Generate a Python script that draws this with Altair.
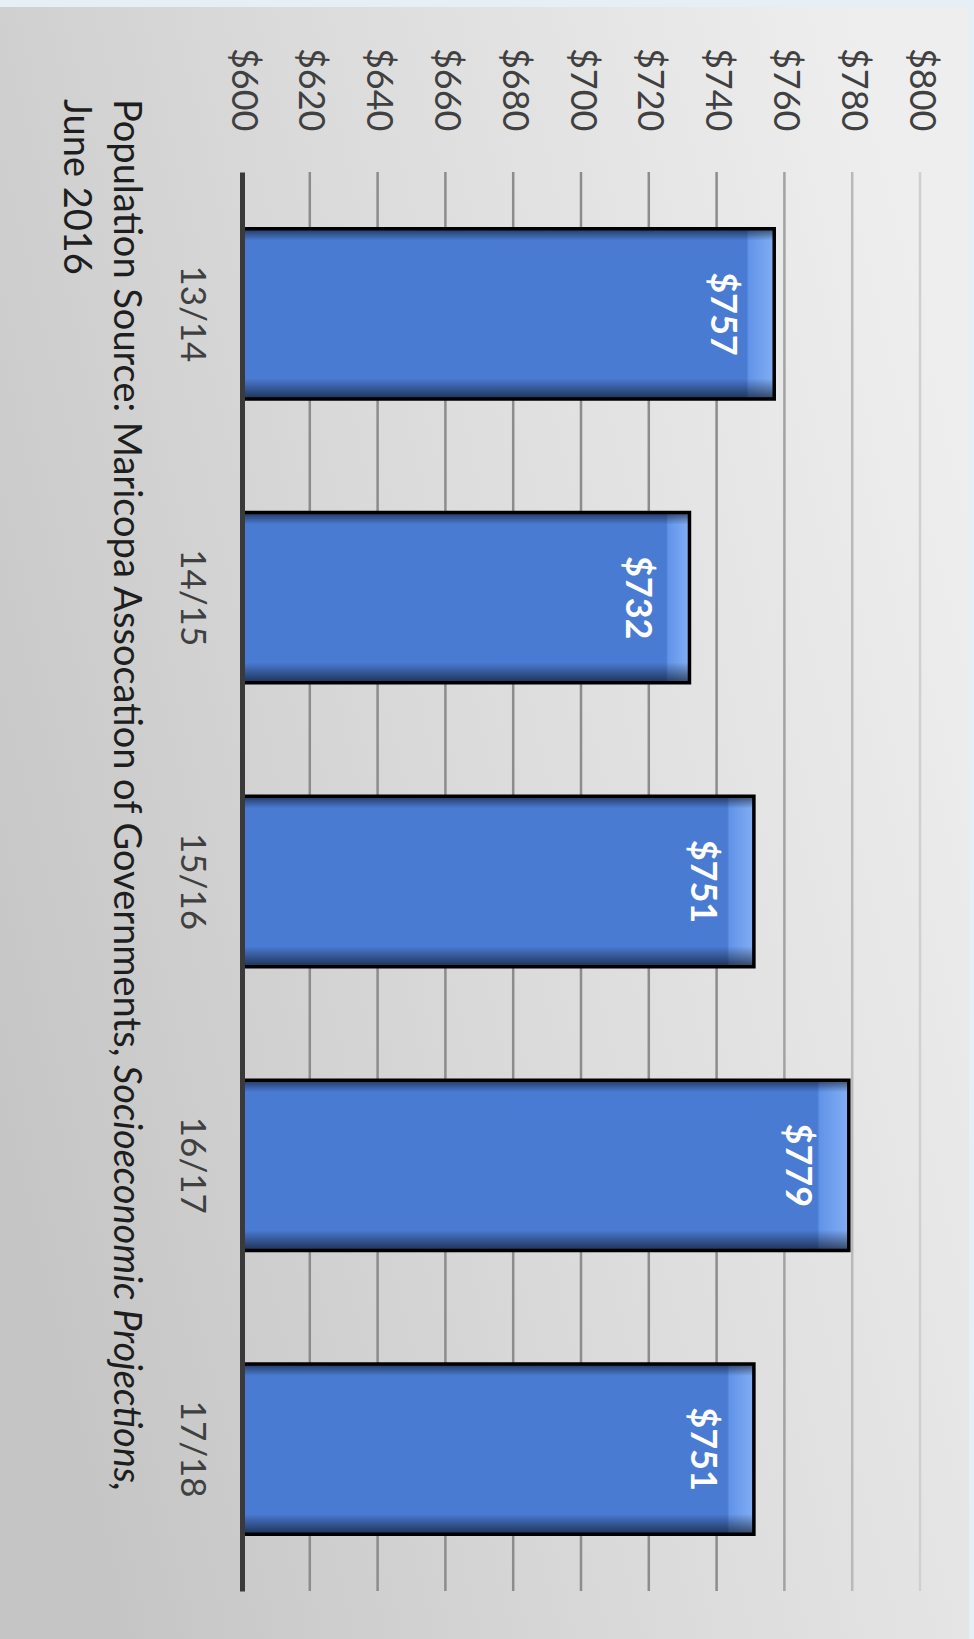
import altair as alt
import pandas as pd

# ---- data ----
categories = ["13/14", "14/15", "15/16", "16/17", "17/18"]
values = [757, 732, 751, 779, 751]
tick_values = [600, 620, 640, 660, 680, 700, 720, 740, 760, 780, 800]
source_main = "Population Source: Maricopa Assocation of Governments,"
source_italic = "Socioeconomic Projections,"
source_line2 = "June 2016"

df = pd.DataFrame({"cat": categories, "val": values})
df["label"] = ["$" + str(v) for v in values]
ticks = pd.DataFrame({"t": tick_values})
one = pd.DataFrame({"k": [0]})

W, H = 678, 1419
FONT = "Lato"
BASE = tick_values[0]

x_scale = alt.Scale(domain=[tick_values[0], tick_values[-1]], zero=False, nice=False)
x_axis = alt.Axis(
    orient="top", values=tick_values, format="$,.0f", title=None,
    labelAngle=90, labelAlign="right", labelBaseline="middle",
    labelPadding=41, labelFont=FONT, labelFontSize=36, labelColor="#404040",
    labelFlush=False, labelOverlap=False, ticks=False, domain=False,
    grid=False, zindex=1,
)
y_scale = alt.Scale(domain=categories, paddingInner=0.4, paddingOuter=0.2)
y_axis = alt.Axis(
    title=None, labelAngle=90, labelAlign="center", labelBaseline="middle",
    labelPadding=51, labelFont=FONT, labelFontSize=35, labelColor="#404040",
    ticks=False, domainColor="#3a3a3a", domainWidth=5, grid=False, zindex=1,
)

# background panel
bg = alt.Chart(one).mark_rect(
    fill=alt.Gradient(
        gradient="linear", x1=0, y1=0.7, x2=1, y2=0.3,
        stops=[alt.GradientStop(color="#c5c5c5", offset=0),
               alt.GradientStop(color="#d9d9d9", offset=0.45),
               alt.GradientStop(color="#eeeeee", offset=1)],
    ),
    cornerRadiusTopRight=6,
).encode(x=alt.value(-242), x2=alt.value(727), y=alt.value(-165), y2=alt.value(1467))

# gridlines
grid = alt.Chart(ticks).transform_filter("datum.t > 600").mark_rule(strokeWidth=2.5).encode(
    x=alt.X("t:Q", scale=x_scale, axis=x_axis),
    color=alt.Color("t:Q", scale=alt.Scale(domain=[740, 800], range=["#8c8c8c", "#d0d0d0"], clamp=True), legend=None),
)

bar_fill = alt.Gradient(
    gradient="linear", x1=0, y1=0, x2=1, y2=0,
    stops=[alt.GradientStop(color="#4a7bd3", offset=0),
           alt.GradientStop(color="#4a7bd3", offset=0.948),
           alt.GradientStop(color="#6193e8", offset=0.952),
           alt.GradientStop(color="#82aef4", offset=1)],
)
bars = alt.Chart(df).mark_bar(fill=bar_fill).encode(
    x=alt.X("val:Q", scale=x_scale, axis=x_axis),
    x2=alt.datum(BASE),
    y=alt.Y("cat:N", scale=y_scale, axis=y_axis, sort=categories),
)

shade = alt.Chart(df).mark_bar(
    fill=alt.Gradient(
        gradient="linear", x1=0, y1=0, x2=0, y2=1,
        stops=[alt.GradientStop(color="rgba(0,0,0,0.55)", offset=0),
               alt.GradientStop(color="rgba(0,0,0,0)", offset=0.07),
               alt.GradientStop(color="rgba(0,0,0,0)", offset=0.88),
               alt.GradientStop(color="rgba(0,0,0,0.6)", offset=1)],
    ),
    stroke="#000000", strokeWidth=3.5,
).encode(
    x=alt.X("val:Q", scale=x_scale, axis=x_axis),
    x2=alt.datum(BASE),
    y=alt.Y("cat:N", scale=y_scale, axis=y_axis, sort=categories),
)

labels = alt.Chart(df).mark_text(
    angle=90, align="center", baseline="middle", dy=52,
    font=FONT, fontSize=36, fontWeight="bold", color="white",
).encode(
    x=alt.X("val:Q", scale=x_scale, axis=x_axis),
    y=alt.Y("cat:N", scale=y_scale, axis=y_axis, sort=categories),
    text="label:N",
)

src1 = alt.Chart(one).mark_text(
    angle=90, align="left", baseline="middle", font=FONT, fontSize=38, color="#1e1e1e",
    text=source_main,
).encode(x=alt.value(-117), y=alt.value(-73))
src1i = alt.Chart(one).mark_text(
    angle=90, align="left", baseline="middle", font=FONT, fontSize=38, color="#1e1e1e",
    fontStyle="italic", text=source_italic,
).encode(x=alt.value(-117), y=alt.value(893))
src2 = alt.Chart(one).mark_text(
    angle=90, align="left", baseline="middle", font=FONT, fontSize=38, color="#1e1e1e",
    text=source_line2,
).encode(x=alt.value(-167), y=alt.value(-73))

chart = alt.layer(bg, grid, bars, shade, labels, src1, src1i, src2).properties(
    width=W, height=H,
    padding={"left": 242, "top": 172, "right": 54, "bottom": 48},
    autosize=alt.AutoSizeParams(type="none"),
    background="#e6eef6",
).configure_view(stroke=None)

chart.save("out.html", embed_options={"renderer": "svg", "actions": False})
